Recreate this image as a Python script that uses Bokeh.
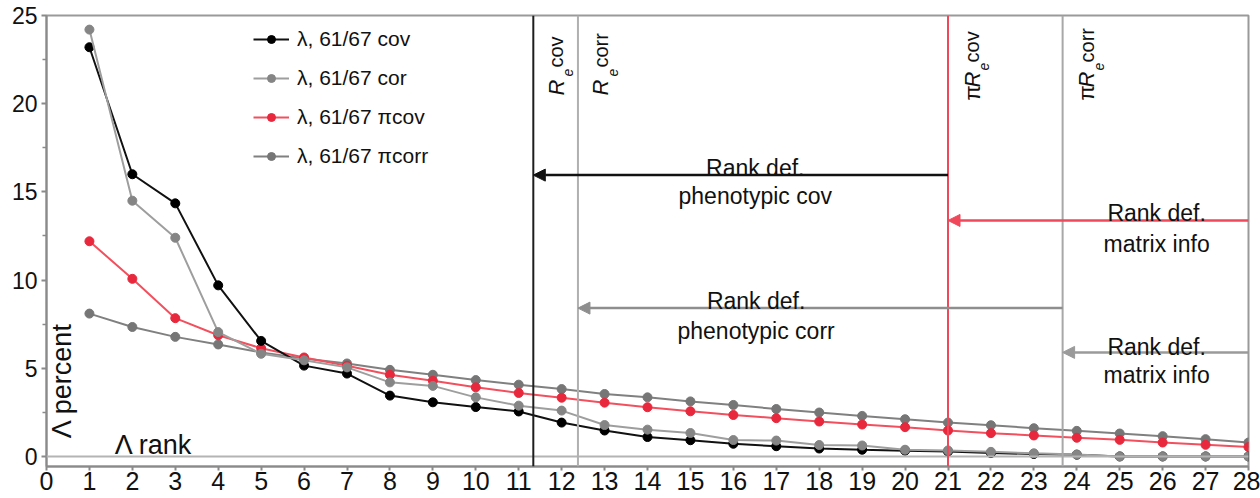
from math import pi
from bokeh.plotting import figure
from bokeh.models import (Range1d, FixedTicker, Span, Arrow, NormalHead, Label,
                          Legend, LegendItem)
from bokeh.embed import file_html
from bokeh.resources import INLINE

# ---------------- data ----------------
rank = list(range(1, 29))
cov = [23.2, 16.0, 14.35, 9.7, 6.55, 5.15, 4.7, 3.45, 3.07, 2.8, 2.55, 1.92, 1.47, 1.1,
       0.92, 0.72, 0.58, 0.45, 0.38, 0.33, 0.28, 0.19, 0.14, 0.1, 0.0, 0.0, 0.0, 0.0]
cor = [24.2, 14.5, 12.4, 7.05, 5.82, 5.45, 5.05, 4.2, 4.0, 3.35, 2.88, 2.6, 1.78, 1.52,
       1.33, 0.93, 0.9, 0.65, 0.62, 0.38, 0.34, 0.26, 0.18, 0.11, 0.0, 0.0, 0.0, 0.0]
picov = [12.2, 10.07, 7.84, 6.87, 6.14, 5.61, 5.14, 4.63, 4.29, 3.92, 3.6, 3.33, 3.05, 2.79,
         2.56, 2.35, 2.17, 1.98, 1.81, 1.66, 1.47, 1.32, 1.19, 1.06, 0.94, 0.79, 0.66, 0.53]
picorr = [8.1, 7.34, 6.78, 6.35, 5.9, 5.55, 5.27, 4.91, 4.63, 4.33, 4.07, 3.82, 3.54, 3.35,
          3.12, 2.92, 2.69, 2.49, 2.3, 2.11, 1.92, 1.77, 1.6, 1.45, 1.3, 1.15, 0.98, 0.79]

series_labels = ["λ, 61/67 cov", "λ, 61/67 cor", "λ, 61/67 πcov", "λ, 61/67 πcorr"]

# effective-rank thresholds (vertical lines)
thr_names = ["Recov", "Recorr", "piRecov", "piRecorr"]
thresholds = [11.34, 12.38, 21.0, 23.67]

# rank-deficiency arrows: (start x, end x, y)
arrow_x_start = [21.0, 28.0, 23.67, 28.0]
arrow_x_end = [11.34, 21.0, 12.38, 23.67]
arrow_y = [15.95, 13.38, 8.41, 5.9]
arrow_text_top = ["Rank def.", "Rank def.", "Rank def.", "Rank def."]
arrow_text_bottom = ["phenotypic cov", "matrix info", "phenotypic corr", "matrix info"]
x_ticks = list(range(0, 29))
y_ticks = [0, 5, 10, 15, 20, 25]

FONT = "Liberation Sans"

p = figure(width=1260, height=498, output_backend="svg", toolbar_location=None,
           x_range=Range1d(0, 28), y_range=Range1d(-0.57, 25.0),
           min_border_left=46, min_border_right=12, min_border_top=15, min_border_bottom=32)
p.background_fill_color = "white"
p.border_fill_color = "white"
p.xgrid.visible = False
p.ygrid.visible = False
p.outline_line_color = "#9a9a9a"
p.outline_line_width = 2

for ax in (p.xaxis[0], p.yaxis[0]):
    ax.axis_line_color = "#8a8a8a"
    ax.axis_line_width = 2
    ax.major_tick_line_color = "#8a8a8a"
    ax.major_tick_line_width = 2
    ax.minor_tick_line_color = "#8a8a8a"
    ax.minor_tick_line_width = 1.5
    ax.major_tick_in = 0
    ax.minor_tick_in = 0
    ax.major_label_text_font = FONT
    ax.major_label_text_color = "#111111"

p.xaxis.ticker = FixedTicker(ticks=x_ticks, minor_ticks=[])
p.xaxis.major_tick_out = 4
p.xaxis.major_label_standoff = 1
p.xaxis.major_label_text_font_size = "25px"

p.yaxis.ticker = FixedTicker(ticks=y_ticks, minor_ticks=[2.5, 7.5, 12.5, 17.5, 22.5])
p.yaxis.major_tick_out = 5
p.yaxis.minor_tick_out = 4
p.yaxis.major_label_standoff = 4
p.yaxis.major_label_text_font_size = "23px"

# zero line
p.add_layout(Span(location=0, dimension="width", line_color="#b4b4b4", line_width=2))

# threshold lines
thr_colors = ["#1e1e1e", "#b0b0b0", "#f0485a", "#a8a8a8"]
for loc, c in zip(thresholds, thr_colors):
    p.add_layout(Span(location=loc, dimension="height", line_color=c, line_width=2))

# series
styles = [
    dict(y=cov, line="#111111", mark="#000000"),
    dict(y=cor, line="#9e9e9e", mark="#858585"),
    dict(y=picov, line="#f2505e", mark="#e8283c"),
    dict(y=picorr, line="#808080", mark="#767676"),
]
order = [3, 2, 0, 1]
renderers = {}
for i in order:
    s = styles[i]
    l = p.line(rank, s["y"], line_color=s["line"], line_width=2)
    c = p.scatter(rank, s["y"], marker="circle", size=9, fill_color=s["mark"],
                  line_color=s["mark"])
    renderers[i] = [l, c]

legend = Legend(items=[LegendItem(label=series_labels[i], renderers=renderers[i]) for i in range(4)],
                location=(202, 293), border_line_alpha=0, background_fill_alpha=0,
                label_text_font=FONT, label_text_font_size="21px", label_text_color="#111111",
                glyph_width=36, glyph_height=20, label_height=20, spacing=15, padding=5,
                label_standoff=8, margin=0)
p.add_layout(legend)

# arrows + texts
arrow_colors = ["#111111", "#f0485a", "#8e8e8e", "#9a9a9a"]
text_x = [16.51, 25.86, 16.53, 25.86]
text_top_y = [16.38, 13.78, 8.84, 6.18]
text_bot_y = [14.74, 12.07, 7.14, 4.59]
for xs, xe, y, c in zip(arrow_x_start, arrow_x_end, arrow_y, arrow_colors):
    p.add_layout(Arrow(end=NormalHead(size=12, fill_color=c, line_color=c, line_width=1),
                       x_start=xs, y_start=y, x_end=xe, y_end=y,
                       line_color=c, line_width=2.5))
for tx, ty1, ty2, t1, t2 in zip(text_x, text_top_y, text_bot_y, arrow_text_top, arrow_text_bottom):
    for ty, t in ((ty1, t1), (ty2, t2)):
        p.add_layout(Label(x=tx, y=ty, text=t, text_align="center", text_baseline="alphabetic",
                           text_font=FONT, text_font_size="23px", text_color="#111111"))

# vertical threshold labels (R_e cov etc.)
def vlabel(x, y, text, off, size, style="normal"):
    p.add_layout(Label(x=x, y=y, text=text, angle=pi / 2, angle_units="rad",
                       x_offset=off, text_align="left", text_baseline="alphabetic",
                       text_font=FONT, text_font_size=size, text_font_style=style,
                       text_color="#111111"))

suffix = ["cov", "corr", "cov", "corr"]
has_pi = [False, False, True, True]
for loc, suf, hp in zip(thresholds, suffix, has_pi):
    if hp:
        vlabel(loc, 20.18, "π", 24, "22px")
        vlabel(loc, 20.92, "R", 24, "22px", "italic")
        vlabel(loc, 21.88, "e", 36, "14px", "italic")
        vlabel(loc, 22.34, suf, 24, "20px")
    else:
        vlabel(loc, 20.46, "R", 23, "22px", "italic")
        vlabel(loc, 21.54, "e", 35, "14px", "italic")
        vlabel(loc, 22.05, suf, 23, "20px")

# inner axis titles
p.add_layout(Label(x=1.59, y=0.65, text="Λ rank", text_align="left", text_baseline="alphabetic",
                   text_font=FONT, text_font_size="27px", text_color="#111111"))
p.add_layout(Label(x=0.36, y=4.31, text="Λ percent", angle=pi / 2, angle_units="rad",
                   text_align="center", text_baseline="middle",
                   text_font=FONT, text_font_size="27px", text_color="#111111"))

open("out.html", "w").write(file_html(p, INLINE))
